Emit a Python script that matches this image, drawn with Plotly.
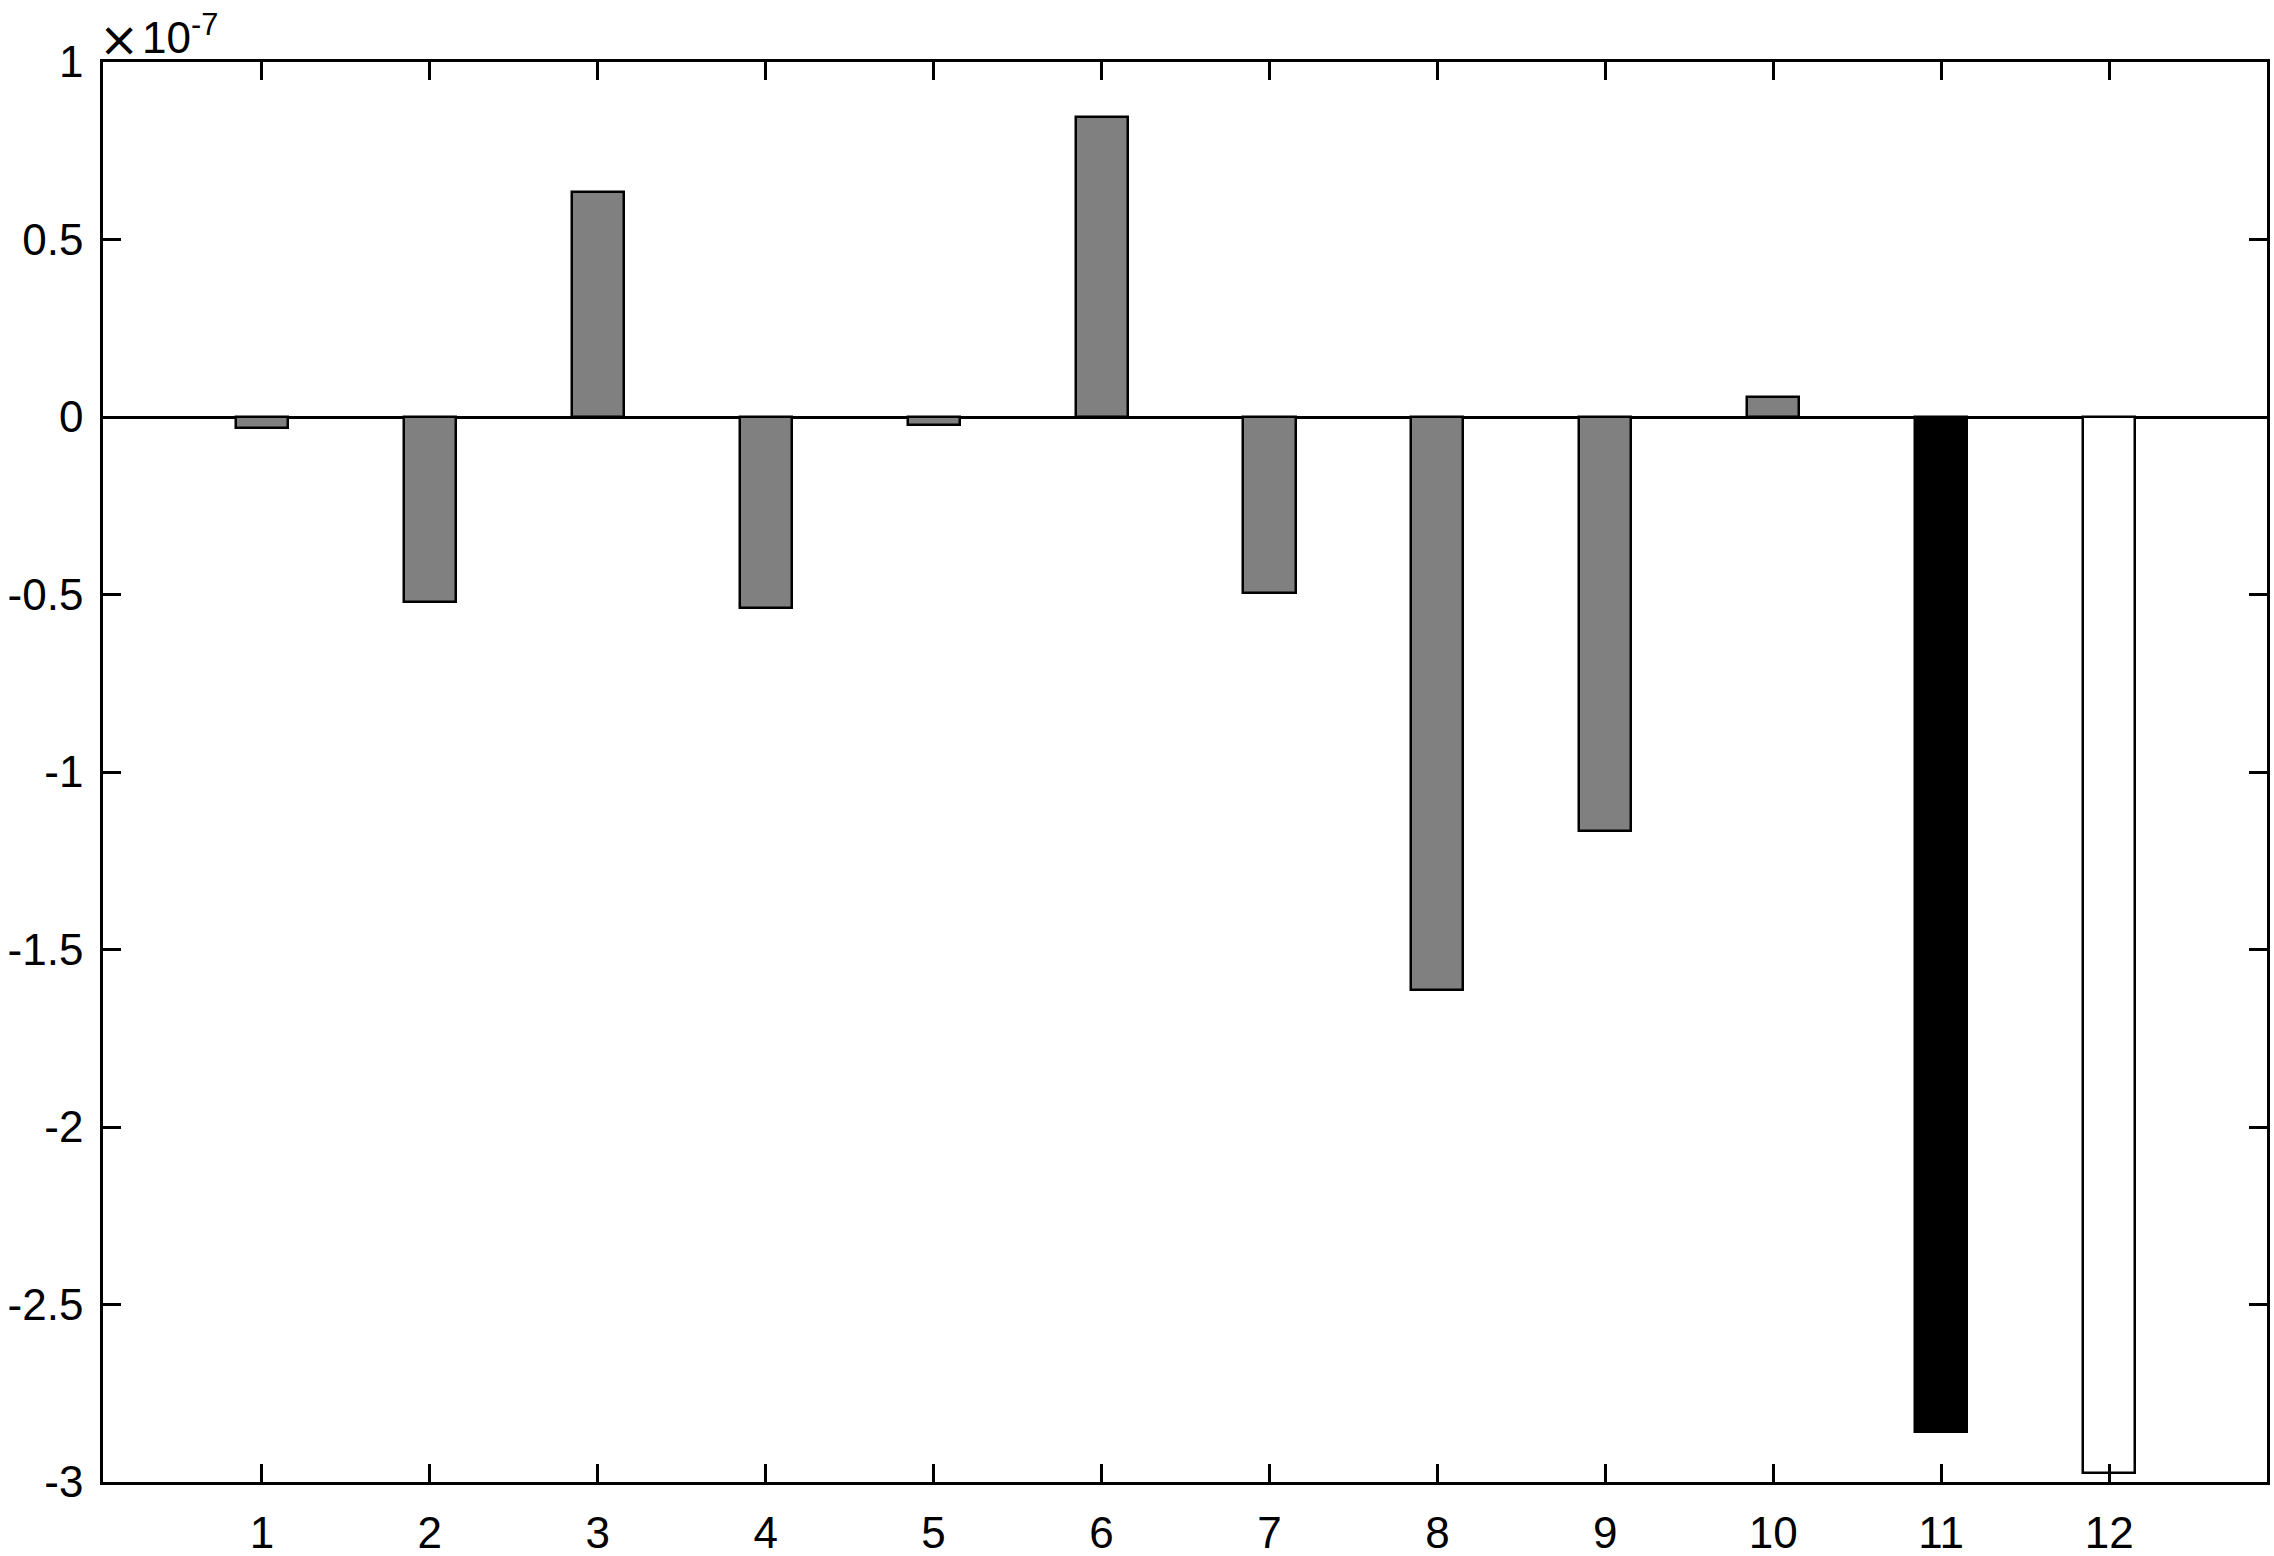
import plotly.graph_objects as go

categories = [1, 2, 3, 4, 5, 6, 7, 8, 9, 10, 11, 12]
values_e7 = [-0.031, -0.520, 0.635, -0.537, -0.022, 0.844, -0.495, -1.614, -1.166, 0.057, -2.859, -2.975]
bar_colors = ["#808080"] * 10 + ["#000000", "#ffffff"]
y_tickvals = [1, 0.5, 0, -0.5, -1, -1.5, -2, -2.5, -3]
y_ticktext = ["1", "0.5", "0", "-0.5", "-1", "-1.5", "-2", "-2.5", "-3"]
x_ticktext = [str(c) for c in categories]

fig = go.Figure()
fig.add_trace(go.Bar(
    x=categories, y=values_e7, width=0.31,
    marker=dict(color=bar_colors, line=dict(color="black", width=2.5)),
    showlegend=False,
))

font = dict(family="Liberation Sans, Arial, Helvetica, sans-serif", size=44, color="black")
font_x = dict(family="DejaVu Sans, Liberation Sans, sans-serif", size=48, color="black")

fig.update_layout(
    width=2274, height=1556,
    margin=dict(l=103, r=7, t=62, b=74),
    plot_bgcolor="white", paper_bgcolor="white",
    font=font,
    bargap=0,
    xaxis=dict(
        range=[0.054, 12.94], tickvals=categories, ticktext=x_ticktext,
        showline=True, linecolor="black", linewidth=2.5, mirror="ticks",
        ticks="inside", ticklen=18, tickwidth=2.5, tickcolor="black",
        showgrid=False, zeroline=False, tickfont=font, ticklabelstandoff=10,
        automargin=False,
    ),
    yaxis=dict(
        range=[-3, 1], tickvals=y_tickvals, ticktext=y_ticktext,
        showline=True, linecolor="black", linewidth=2.5, mirror="ticks",
        ticks="inside", ticklen=18, tickwidth=2.5, tickcolor="black",
        showgrid=False, zeroline=True, zerolinecolor="black", zerolinewidth=2.5,
        tickfont=font, ticklabelstandoff=8, automargin=False,
    ),
    annotations=[
        dict(
            text="×", xref="paper", yref="paper", x=0, y=1,
            xanchor="center", yanchor="middle", showarrow=False,
            xshift=16, yshift=23, font=font_x,
        ),
        dict(
            text="10<sup>-7</sup>", xref="paper", yref="paper", x=0, y=1,
            xanchor="left", yanchor="bottom", showarrow=False,
            xshift=37, yshift=-2, font=font,
        ),
    ],
)

fig.write_html(
    "out.html",
    config={"displayModeBar": False},
    post_script="document.body.style.margin='0';document.body.style.overflow='hidden';",
)
